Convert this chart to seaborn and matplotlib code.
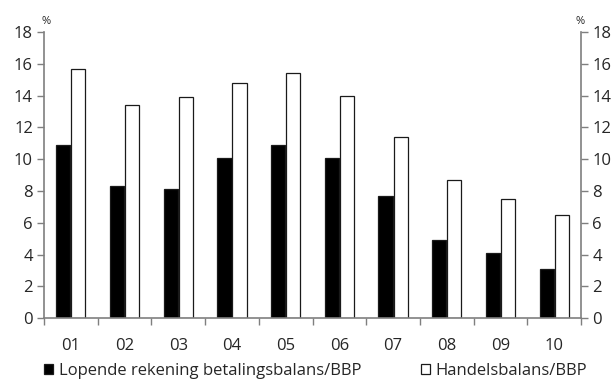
import matplotlib
matplotlib.use("Agg")
import matplotlib.pyplot as plt
import seaborn as sns
import pandas as pd
import numpy as np

years = ["01", "02", "03", "04", "05", "06", "07", "08", "09", "10"]
lopende = [10.9, 8.3, 8.1, 10.1, 10.9, 10.1, 7.7, 4.9, 4.1, 3.1]
handels = [15.7, 13.4, 13.9, 14.8, 15.4, 14.0, 11.4, 8.7, 7.5, 6.5]
series_names = ["Lopende rekening betalingsbalans/BBP", "Handelsbalans/BBP"]
y_ticks = [0, 2, 4, 6, 8, 10, 12, 14, 16, 18]

df = pd.DataFrame({
    "jaar": years * 2,
    "waarde": lopende + handels,
    "reeks": [series_names[0]] * len(years) + [series_names[1]] * len(years),
})

sns.set_style("white")
plt.rcParams["font.family"] = ["Open Sans", "DejaVu Sans"]

fig = plt.figure(figsize=(6.14, 3.81), dpi=100)
ax = fig.add_axes([0.0717, 0.165, 0.8746, 0.751])

sns.barplot(data=df, x="jaar", y="waarde", hue="reeks",
            palette=["black", "white"], width=0.56, gap=0.06,
            edgecolor="#1a1a1a", linewidth=0.9, saturation=1,
            ax=ax, legend=True)

grey = "#7f7f7f"
ax.set_xlim(-0.5, len(years) - 0.5)
ax.set_ylim(0, 18)
ax.set_yticks(y_ticks)
ax.set_xlabel("")
ax.set_ylabel("")

# major ticks at category boundaries, labels centred on minor ticks
ax.set_xticks(np.arange(-0.5, len(years), 1.0))
ax.set_xticklabels([])
ax.set_xticks(np.arange(len(years)), minor=True)
ax.set_xticklabels(years, minor=True)
ax.tick_params(axis="x", which="major", direction="out", length=5, width=1,
               color=grey, bottom=True)
ax.tick_params(axis="x", which="minor", length=0, pad=14, labelsize=12)
ax.tick_params(axis="y", direction="out", length=5, width=1, color=grey,
               left=True, labelsize=12, pad=3)

for s in ["top", "right"]:
    ax.spines[s].set_visible(False)
for s in ["left", "bottom"]:
    ax.spines[s].set_color(grey)
    ax.spines[s].set_linewidth(1.2)

ax2 = ax.twinx()
ax2.set_ylim(0, 18)
ax2.set_yticks(y_ticks)
ax2.tick_params(axis="y", direction="out", length=5, width=1, color=grey,
                right=True, labelsize=12, pad=3)
for s in ["top", "left", "bottom"]:
    ax2.spines[s].set_visible(False)
ax2.spines["right"].set_color(grey)
ax2.spines["right"].set_linewidth(1.2)
ax2.grid(False)
ax.grid(False)

fig.text(46 / 614, 1 - 21 / 381, "%", fontsize=8, ha="center", va="center")
fig.text(580 / 614, 1 - 21 / 381, "%", fontsize=8, ha="center", va="center")

handles, labels = ax.get_legend_handles_labels()
ax.legend_.remove()
fig.legend(handles, labels, loc="lower left", bbox_to_anchor=(0.047, -0.035),
           ncol=2, frameon=False, fontsize=12, handlelength=0.55,
           handleheight=0.55, handletextpad=0.35, columnspacing=3.55)

fig.savefig("out.png", dpi=100)
